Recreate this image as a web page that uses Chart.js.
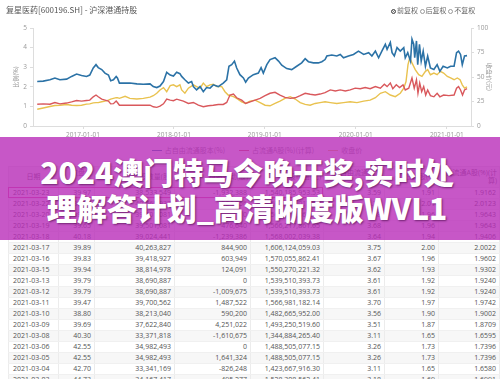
<!DOCTYPE html>
<html><head><meta charset="utf-8">
<script src="https://cdn.jsdelivr.net/npm/chart.js@4"></script>
<style>
html,body{margin:0;padding:0;width:500px;height:379px;overflow:hidden;background:#fff;font-family:"Noto Sans CJK SC","Noto Sans",sans-serif;}
#chartBox{position:absolute;left:0;top:0;width:500px;height:137px;}
#title{position:absolute;left:6px;top:4px;font-size:8px;color:#555;white-space:nowrap;}
#adj{position:absolute;left:391px;top:5px;font-size:7px;color:#666;white-space:nowrap;}
#adj span{display:inline-block;width:5px;height:5px;border:1px solid #999;border-radius:50%;vertical-align:-1px;margin-right:1px;box-sizing:border-box;}
#adj span.on{background:#555;border-color:#555;box-shadow:inset 0 0 0 1px #fff;}
#legend{position:absolute;left:0;top:145px;width:500px;text-align:center;font-size:7px;color:#888;white-space:nowrap;}
#legend i{display:inline-block;width:10px;height:0;border-top:1.5px solid;vertical-align:2px;margin:0 3px 0 14px;}
#tbl{position:absolute;left:8px;top:166px;width:491px;border-collapse:collapse;table-layout:fixed;font-family:"Open Sans","Noto Sans CJK SC",sans-serif;font-size:7px;color:#555;}
#tbl th{height:20px;padding:0 2px;font-weight:normal;color:#666;line-height:8px;text-align:right;border:1px solid #e6e6e6;background:#f6f6f6;}
#tbl th:first-child{text-align:center;}
#tbl td{height:10px;line-height:10px;padding:0 3px 0 0;text-align:right;border-left:1px solid #ececec;border-right:1px solid #ececec;border-bottom:1px solid #f0f0f0;white-space:nowrap;overflow:hidden;}
#tbl td:first-child{text-align:left;padding-left:4px;}
#tbl tr:nth-child(even) td{background:#f7f7f7;}
#sel{position:absolute;left:8px;top:187px;width:313px;height:9px;border:1px solid #e0579a;}
#overlay{position:absolute;left:0;top:137px;width:500px;height:103px;background:rgba(185,45,185,0.8);}
#banner{position:absolute;left:0;top:153px;width:494px;text-align:center;color:#fff;font-family:"Noto Sans CJK SC",sans-serif;font-weight:900;font-size:30px;line-height:36px;text-shadow:1px 1px 2px rgba(60,0,60,0.6);white-space:nowrap;}
</style></head>
<body>
<div id="chartBox"><canvas id="c"></canvas></div>
<div id="title">复星医药[600196.SH] - 沪深港通持股</div>
<div id="adj"><span class="on"></span>前复权 <span></span>后复权 <span></span>不复权</div>
<div id="legend"></div>
<table id="tbl"><colgroup>
<col style="width:50px"><col style="width:36px"><col style="width:80px"><col style="width:76px"><col style="width:73px"><col style="width:61px"><col style="width:54px"><col style="width:61px">
</colgroup><thead id="th"></thead><tbody id="tb"></tbody></table>
<div id="sel"></div>
<div id="overlay"></div>
<div id="banner">2024澳门特马今晚开奖,实时处<br>理解答计划_高清晰度版WVL1</div>
<script>
// ---- chart data ----
const tickLabels = ['2017-01-01','2018-01-01','2019-01-01','2020-01-01','2021-01-01'];
const seriesNames = ['占自由流通股本(%)','占流通A股(%)(计算)','收盘价'];
const seriesColors = ['#2b72a6','#d9585c','#e9c24f'];

const blueDates = ['2016-07-01','2016-07-25','2016-08-21','2016-09-10','2016-09-30','2016-10-27','2016-11-16','2016-12-06','2016-12-26','2017-01-15','2017-01-28','2017-02-11','2017-02-22','2017-03-03','2017-03-17','2017-03-30','2017-04-13','2017-04-22','2017-05-03','2017-05-14','2017-05-19','2017-05-27','2017-06-19','2017-07-08','2017-08-05','2017-08-31','2017-09-27','2017-10-10','2017-10-24','2017-11-06','2017-11-20','2017-12-03','2017-12-17','2017-12-30','2018-01-12','2018-01-25',
'2018-02-01','2018-02-14','2018-02-28','2018-03-13','2018-03-20','2018-04-02','2018-04-16','2018-04-29','2018-05-12','2018-05-26','2018-06-08','2018-06-28','2018-07-18','2018-08-01','2018-08-10','2018-08-21','2018-09-01','2018-09-10','2018-09-23','2018-10-07','2018-10-16','2018-10-27','2018-11-16','2018-12-06','2018-12-17','2018-12-26','2019-01-09','2019-01-22','2019-02-11','2019-02-25','2019-03-10','2019-03-30','2019-04-19','2019-05-09','2019-05-29','2019-06-12','2019-06-25','2019-07-15','2019-08-04','2019-08-18','2019-08-31',
'2019-09-07','2019-09-27','2019-10-17','2019-10-31','2019-11-13','2019-12-03','2019-12-23','2020-01-12','2020-02-02','2020-02-22','2020-03-06','2020-03-20','2020-04-02','2020-04-15','2020-04-29','2020-05-06','2020-05-19','2020-05-26','2020-06-04','2020-06-15','2020-06-28','2020-07-12','2020-07-18','2020-07-28','2020-08-08','2020-08-14','2020-08-21','2020-08-25','2020-09-01','2020-09-06','2020-09-13','2020-09-20','2020-09-28','2020-10-07','2020-10-16','2020-10-27','2020-11-10','2020-11-23','2020-12-04','2020-12-17','2021-01-03','2021-01-16','2021-01-30','2021-02-09','2021-02-17','2021-02-25','2021-03-04','2021-03-13','2021-03-23'];
const blueVals = [2.27,2.29,2.36,2.45,2.36,2.39,2.53,2.65,2.58,2.53,2.60,2.96,3.13,2.98,2.88,2.70,2.60,2.31,2.36,2.53,2.45,2.19,2.19,2.19,2.15,2.13,2.15,2.01,1.96,2.04,2.27,2.74,2.60,2.55,2.74,2.67,
2.53,2.36,2.19,2.27,2.01,1.84,2.01,1.75,1.96,1.93,2.10,2.01,2.19,2.36,3.05,3.13,3.31,2.96,2.62,2.45,2.24,2.45,2.62,2.70,2.98,2.70,3.13,3.39,3.48,3.31,3.10,2.93,2.88,3.05,3.22,3.43,3.28,3.22,3.22,3.28,3.39,
3.57,3.62,3.57,3.65,3.48,3.57,3.65,3.82,3.65,3.74,3.57,3.82,3.48,3.82,4.17,3.91,4.26,3.74,3.57,4.00,3.82,4.00,3.48,3.74,3.31,4.43,4.17,3.48,4.34,3.13,4.17,3.31,3.82,3.05,3.57,2.96,2.88,3.13,2.79,3.05,2.96,3.05,3.05,3.74,3.82,3.65,3.13,3.57,3.59];

const redDates = ['2016-07-01','2016-07-25','2016-08-21','2016-09-10','2016-09-30','2016-10-27','2016-11-16','2016-12-06','2016-12-26','2017-01-15','2017-01-28','2017-02-11','2017-02-22','2017-03-03','2017-03-17','2017-03-30','2017-04-13','2017-04-22','2017-05-03','2017-05-14','2017-05-19','2017-05-27','2017-06-19','2017-07-08','2017-08-05','2017-08-31','2017-09-27','2017-10-10','2017-10-24','2017-11-06','2017-11-20','2017-12-03','2017-12-17','2017-12-30','2018-01-12','2018-01-25',
'2018-02-08','2018-02-28','2018-03-20','2018-04-09','2018-04-29','2018-05-19','2018-06-08','2018-06-28','2018-07-18','2018-08-01','2018-08-14','2018-08-28','2018-09-10','2018-09-30','2018-10-16','2018-11-03','2018-11-23','2018-12-13','2019-01-02','2019-01-22','2019-02-11','2019-03-03','2019-03-23','2019-04-13','2019-05-03','2019-05-23','2019-06-12','2019-07-02','2019-07-22','2019-08-11','2019-08-31',
'2019-09-21','2019-10-11','2019-10-31','2019-11-20','2019-12-10','2019-12-30','2020-01-19','2020-02-08','2020-02-28','2020-03-20','2020-04-09','2020-04-25','2020-05-06','2020-05-19','2020-05-29','2020-06-12','2020-06-25','2020-07-09','2020-07-18','2020-08-01','2020-08-14','2020-08-23','2020-09-01','2020-09-07','2020-09-14','2020-09-22','2020-09-30','2020-10-08','2020-10-16','2020-10-27','2020-11-10','2020-11-23','2020-12-04','2020-12-19','2021-01-09','2021-01-30','2021-02-09','2021-02-17','2021-02-25','2021-03-05','2021-03-13','2021-03-23'];
const redVals = [1.11,1.13,1.11,1.20,1.13,1.17,1.23,1.30,1.27,1.30,1.32,1.49,1.58,1.49,1.37,1.32,1.27,1.13,1.14,1.27,1.20,1.06,1.06,1.06,1.06,1.06,1.06,0.98,0.95,1.01,1.13,1.37,1.32,1.29,1.37,1.32,
1.27,1.15,1.20,1.06,0.98,1.03,1.06,1.10,1.10,1.20,1.58,1.63,1.44,1.32,1.15,1.23,1.32,1.41,1.55,1.67,1.72,1.58,1.46,1.41,1.44,1.55,1.67,1.62,1.58,1.63,1.70,
1.84,1.79,1.84,1.79,1.84,1.93,1.90,1.96,1.90,2.01,1.93,2.13,2.01,2.19,1.90,2.10,1.96,2.10,1.84,1.93,2.45,1.93,2.36,1.67,2.19,1.75,2.01,1.58,1.84,1.55,1.49,1.67,1.49,1.58,1.55,1.58,1.93,2.01,1.84,1.58,1.84,1.91];

const yellowDates = ['2016-07-01','2016-07-25','2016-08-21','2016-09-10','2016-09-30','2016-10-27','2016-11-16','2016-12-06','2016-12-26','2017-01-15','2017-01-28','2017-02-11','2017-02-22','2017-03-03','2017-03-17','2017-03-30','2017-04-13','2017-04-22','2017-05-03','2017-05-14','2017-05-19','2017-05-27','2017-06-19','2017-07-08','2017-08-05','2017-08-31','2017-09-27','2017-10-10','2017-10-24','2017-11-06','2017-11-20','2017-12-03','2017-12-17','2017-12-30','2018-01-12','2018-01-25',
'2018-02-01','2018-02-14','2018-02-28','2018-03-20','2018-04-02','2018-04-16','2018-04-29','2018-05-12','2018-05-26','2018-06-08','2018-06-22','2018-07-12','2018-07-25','2018-08-07','2018-08-28','2018-09-10','2018-09-30','2018-10-16','2018-11-03','2018-11-23','2018-12-13','2019-01-02','2019-01-22','2019-02-11','2019-03-03','2019-03-23','2019-04-13','2019-05-03','2019-05-23','2019-06-12','2019-07-02','2019-07-22','2019-08-11','2019-08-31',
'2019-09-21','2019-10-17','2019-11-13','2019-12-10','2020-01-06','2020-02-02','2020-02-28','2020-03-20','2020-04-09','2020-04-29','2020-05-19','2020-06-08','2020-06-28','2020-07-12','2020-07-21','2020-07-29','2020-08-05','2020-08-14','2020-08-27','2020-09-10','2020-09-23','2020-10-07','2020-10-16','2020-10-27','2020-11-10','2020-11-23','2020-12-06','2020-12-19','2021-01-03','2021-01-16','2021-01-30','2021-02-12','2021-02-23','2021-03-04','2021-03-13','2021-03-23'];
const yellowVals = [17.1,18.4,19.9,20.9,21.2,22.0,21.2,20.9,21.2,22.3,22.6,23.6,23.9,23.9,24.7,25.4,26.4,27.5,28.2,28.9,28.9,28.2,30.3,28.2,27.5,28.2,29.5,30.9,33.4,36.8,39.2,35.0,41.2,42.0,40.2,42.0,
36.8,33.4,38.6,42.0,40.2,38.6,43.8,40.2,42.0,42.7,40.2,40.2,35.0,31.6,29.9,28.2,24.7,23.0,25.4,26.4,23.9,21.2,20.6,23.0,25.4,28.2,29.9,27.5,23.9,22.0,21.2,23.0,23.9,24.7,
23.9,23.0,23.9,24.7,23.9,25.4,26.4,28.9,33.4,35.0,31.6,29.9,33.4,38.6,45.4,62.7,69.6,64.4,57.5,52.3,50.6,55.8,57.5,52.3,54.0,52.3,55.8,54.0,50.6,49.0,47.2,49.0,47.2,42.0,38.6,39.97];

// ---- table data ----
const tableHeaders = ['日期','收盘价(元)','持股数量(股)','持股变动(股)','持股市值(元)','占自由流通股本(%)','占流通A股(%)','占流通A股(%)(计算)'];
const rowDates = ['2021-03-23','2021-03-22','2021-03-20','2021-03-19','2021-03-18','2021-03-17','2021-03-16','2021-03-15','2021-03-13','2021-03-12','2021-03-11','2021-03-10','2021-03-09','2021-03-08','2021-03-06','2021-03-05','2021-03-04','2021-03-03'];
const rowClose = ['39.97','39.72','39.65','39.65','40.18','39.89','39.83','39.94','39.79','39.79','39.47','38.80','39.69','40.30','42.55','42.55','42.70','44.73'];
const rowShares = ['38,533,549','40,465,937','39,501,081','39,501,081','39,024,441','40,263,827','39,418,927','38,814,978','38,690,887','38,690,887','39,700,562','38,213,040','37,622,840','33,371,818','34,982,493','34,982,493','33,341,169','34,167,417'];
const rowChange = ['-1,932,388','964,856','0','476,640','-1,239,386','844,900','603,949','124,091','0','-1,009,675','1,487,522','590,200','4,251,022','-1,610,675','0','1,641,324','-826,248','495,277'];
const rowValue = ['1,540,185,953.53','1,607,307,017.64','1,566,217,861.65','1,566,217,861.65','1,568,002,039.38','1,606,124,059.03','1,570,055,862.41','1,550,270,221.32','1,539,510,393.73','1,539,510,393.73','1,566,981,182.14','1,482,665,952.00','1,493,250,519.60','1,344,884,265.40','1,488,505,077.15','1,488,505,077.15','1,423,667,916.30','1,528,308,562.41'];
const rowFree = ['3.59','3.77','3.68','3.68','3.64','3.75','3.67','3.62','3.61','3.61','3.70','3.56','3.51','3.11','3.26','3.26','3.11','3.18'];
const rowA = ['1.91','2.01','1.96','1.96','1.94','2.00','1.96','1.93','1.92','1.92','1.97','1.90','1.87','1.65','1.73','1.73','1.65','1.69'];
const rowACalc = ['1.9162','2.0123','1.9643','1.9643','1.9406','2.0022','1.9602','1.9302','1.9240','1.9240','1.9742','1.9002','1.8709','1.6595','1.7396','1.7396','1.6580','1.6991'];

// build table
document.getElementById('th').innerHTML = '<tr>' + tableHeaders.map(h => '<th>' + h + '</th>').join('') + '</tr>';
let body = '';
rowDates.forEach((d, i) => {
  body += '<tr><td>' + [d, rowClose[i], rowShares[i], rowChange[i], rowValue[i], rowFree[i], rowA[i], rowACalc[i]].join('</td><td>') + '</td></tr>';
});
document.getElementById('tb').innerHTML = body;
document.getElementById('legend').innerHTML = seriesNames.map((n, i) => '<i style="border-color:' + seriesColors[i] + '"></i>' + n).join('');

// build chart
const toT = s => { const p = s.split('-'); return Date.UTC(+p[0], +p[1] - 1, +p[2]); };
const pts = (d, v) => d.map((s, i) => ({x: toT(s), y: v[i]}));
const fmt = t => { const d = new Date(t); const m = d.getUTCMonth() + 1, dd = d.getUTCDate(); return d.getUTCFullYear() + '-' + (m < 10 ? '0' : '') + m + '-' + (dd < 10 ? '0' : '') + dd; };

new Chart(document.getElementById('c'), {
  type: 'line',
  data: {
    datasets: [
      {label: seriesNames[0], data: pts(blueDates, blueVals), borderColor: seriesColors[0], yAxisID: 'y', borderWidth: 1.6, pointRadius: 0},
      {label: seriesNames[1], data: pts(redDates, redVals), borderColor: seriesColors[1], yAxisID: 'y', borderWidth: 1.4, pointRadius: 0},
      {label: seriesNames[2], data: pts(yellowDates, yellowVals), borderColor: seriesColors[2], yAxisID: 'y1', borderWidth: 1.4, pointRadius: 0}
    ]
  },
  options: {
    responsive: true, maintainAspectRatio: false, animation: false, devicePixelRatio: 1,
    layout: {padding: {top: 28, left: 0, right: 0, bottom: 0}},
    plugins: {legend: {display: false}, tooltip: {enabled: false}},
    scales: {
      x: {
        type: 'linear', min: toT('2016-06-14'), max: toT('2021-04-08'),
        afterBuildTicks: s => { s.ticks = tickLabels.map(l => ({value: toT(l)})); },
        afterFit: s => { s.height = 11; },
        ticks: {callback: v => fmt(v), color: '#999', font: {size: 6.5, family: '"Open Sans"'}, maxRotation: 0, autoSkip: false, padding: 2},
        grid: {drawOnChartArea: false, tickLength: 3, color: '#ddd'},
        border: {color: '#ddd'}
      },
      y: {
        position: 'left', min: 0, max: 5,
        afterFit: s => { s.width = 33; },
        ticks: {stepSize: 1, color: '#999', font: {size: 6.5, family: '"Open Sans"'}, padding: 3},
        grid: {drawOnChartArea: false, tickLength: 3, color: '#ddd'},
        border: {color: '#ddd'},
        title: {display: true, text: '比例(%)', color: '#999', font: {size: 6, family: '"Noto Sans CJK SC"'}, padding: {top: 12, bottom: 0}}
      },
      y1: {
        position: 'right', min: 0, max: 100,
        afterFit: s => { s.width = 29; },
        ticks: {stepSize: 25, color: '#999', font: {size: 6.5, family: '"Open Sans"'}, padding: 3},
        grid: {drawOnChartArea: false, tickLength: 3, color: '#ddd'},
        border: {color: '#ddd'},
        title: {display: true, text: '收盘价(元)', color: '#999', font: {size: 6, family: '"Noto Sans CJK SC"'}, padding: {top: 7, bottom: 0}}
      }
    }
  }
});
</script>
</body></html>
